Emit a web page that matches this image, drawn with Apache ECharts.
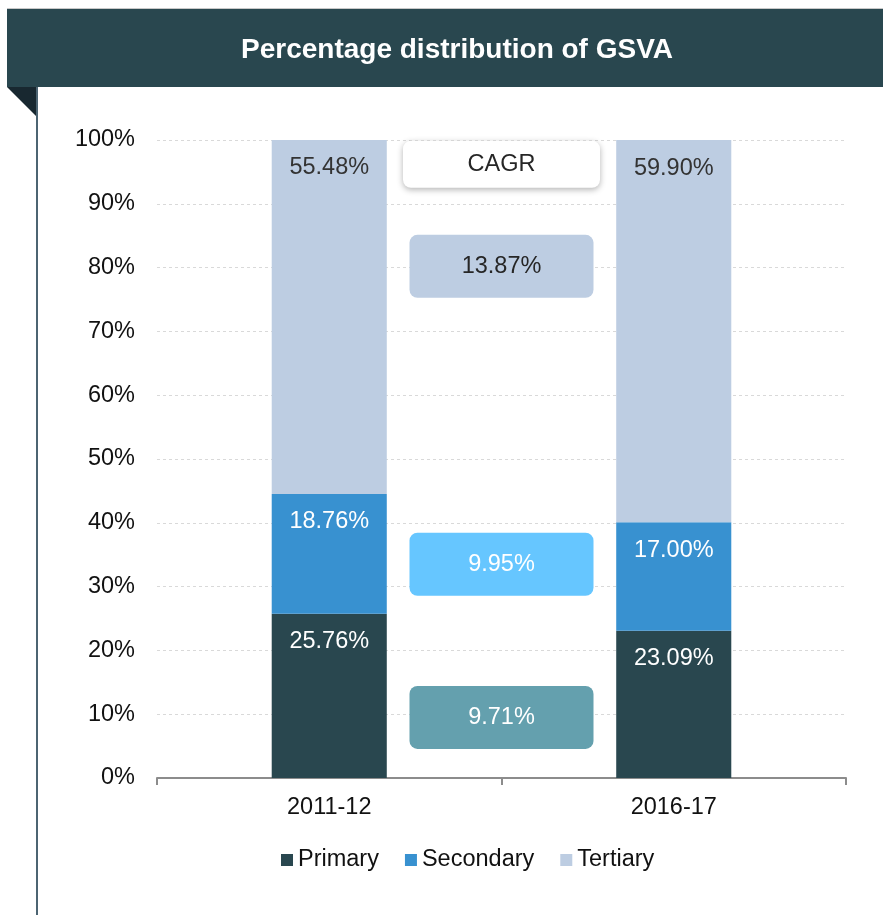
<!DOCTYPE html>
<html>
<head>
<meta charset="utf-8">
<script src="https://cdn.jsdelivr.net/npm/echarts@6/dist/echarts.min.js"></script>
<style>
  html, body { margin: 0; padding: 0; background: #fff; }
  #chart { width: 883px; height: 915px; }
</style>
</head>
<body>
<div id="chart"></div>
<script>
const categories = ['2011-12', '2016-17'];
const primary = [25.76, 23.09];
const secondary = [18.76, 17.00];
const tertiary = [55.48, 59.90];
const yTicks = [0, 10, 20, 30, 40, 50, 60, 70, 80, 90, 100];

// CAGR annotations, anchored between the two bars
const cagrLabels = ['CAGR', '13.87%', '9.95%', '9.71%'];
const cagrY = [96.2, 80.2, 33.5, 9.5];

const FONT = '"Liberation Sans", Arial, sans-serif';
const colors = { primary: '#29474F', secondary: '#3891D0', tertiary: '#BDCDE2' };

const chart = echarts.init(document.getElementById('chart'));

function barLabel(color) {
  return {
    show: true,
    position: 'insideTop',
    distance: 16,
    color: color,
    fontSize: 23.5,
    fontFamily: FONT,
    formatter: p => p.value.toFixed(2) + '%'
  };
}

const boxStyles = [
  { backgroundColor: '#fff', color: '#262626', width: 197, height: 47, shadowBlur: 6, shadowColor: 'rgba(0,0,0,0.3)', shadowOffsetY: 2 },
  { backgroundColor: '#BDCDE2', color: '#262626', width: 184, height: 63 },
  { backgroundColor: '#66C6FF', color: '#fff', width: 184, height: 63 },
  { backgroundColor: '#64A0AE', color: '#fff', width: 184, height: 63 }
];

const cagrData = cagrLabels.map((t, i) => ({
  value: [1, cagrY[i]],
  name: t,
  label: Object.assign({
    show: true,
    position: 'inside',
    formatter: t,
    fontSize: 23.5,
    fontFamily: FONT,
    align: 'center',
    verticalAlign: 'middle',
    lineHeight: boxStyles[i].height + 4,
    borderRadius: 8
  }, boxStyles[i])
}));

const option = {
  animation: false,
  backgroundColor: '#fff',
  title: {
    text: 'Percentage distribution of GSVA',
    left: 452,
    textAlign: 'center',
    top: 31,
    textStyle: { color: '#fff', fontSize: 28, fontWeight: 'bold', fontFamily: FONT }
  },
  graphic: [
    { type: 'rect', shape: { x: 7, y: 8, width: 876, height: 1 }, style: { fill: '#c8c8c8' }, z: -1 },
    { type: 'rect', shape: { x: 7, y: 9, width: 876, height: 78 }, style: { fill: '#29474F' }, z: -1 },
    { type: 'polygon', shape: { points: [[7, 87], [37, 87], [37, 117]] }, style: { fill: '#182830' }, z: -1 },
    { type: 'rect', shape: { x: 36, y: 87, width: 2, height: 828 }, style: { fill: '#4C6472' }, z: -1 }
  ],
  legend: {
    data: ['Primary', 'Secondary', 'Tertiary'],
    bottom: 38,
    left: 276,
    icon: 'rect',
    itemWidth: 12,
    itemHeight: 12,
    itemGap: 26,
    textStyle: { fontSize: 23.5, color: '#111', fontFamily: FONT }
  },
  grid: { left: 157, right: 37, top: 140, bottom: 137, containLabel: false },
  xAxis: [
    {
      type: 'category',
      data: categories,
      axisLine: { lineStyle: { color: '#8c8c8c', width: 2 } },
      axisTick: { show: true, length: 7, lineStyle: { color: '#8c8c8c', width: 2 } },
      axisLabel: { color: '#111', fontSize: 23.5, fontFamily: FONT, margin: 18 }
    },
    { type: 'value', min: 0, max: 2, show: false }
  ],
  yAxis: {
    type: 'value',
    min: yTicks[0],
    max: yTicks[yTicks.length - 1],
    interval: 10,
    axisLine: { show: false },
    axisTick: { show: false },
    axisLabel: { color: '#111', fontSize: 23.5, fontFamily: FONT, margin: 22, formatter: '{value}%' },
    splitLine: { lineStyle: { color: '#d9d9d9', type: [3, 3] } }
  },
  series: [
    { name: 'Primary', type: 'bar', stack: 'g', barWidth: '33.4%', data: primary, itemStyle: { color: colors.primary }, label: barLabel('#fff') },
    { name: 'Secondary', type: 'bar', stack: 'g', data: secondary, itemStyle: { color: colors.secondary }, label: barLabel('#fff') },
    { name: 'Tertiary', type: 'bar', stack: 'g', data: tertiary, itemStyle: { color: colors.tertiary }, label: barLabel('#333') },
    {
      name: 'CAGR',
      type: 'scatter',
      xAxisIndex: 1,
      symbolSize: 2,
      itemStyle: { color: 'rgba(0,0,0,0)', opacity: 1 },
      emphasis: { disabled: true },
      data: cagrData,
      z: 5
    }
  ]
};

chart.setOption(option);
</script>
</body>
</html>
